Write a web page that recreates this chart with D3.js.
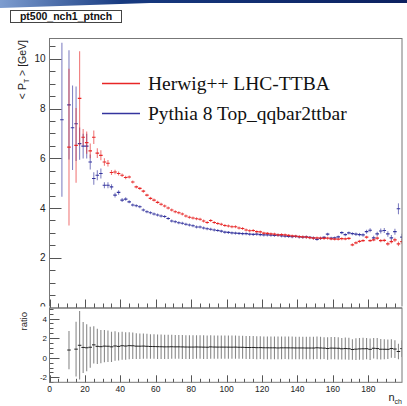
<!DOCTYPE html>
<html>
<head>
<meta charset="utf-8">
<script src="https://cdn.jsdelivr.net/npm/d3@7"></script>
<style>
  body { margin: 0; background: #fff; }
  svg { display: block; font-family: "Liberation Sans", Arial, sans-serif; }
</style>
</head>
<body>
<div class="chart"></div>
<script>
// bin centres of n_ch (bins of width 2)
var binCenters = d3.range(1, 200, 2);

// Herwig++ LHC-TTBA  <pT> per bin (null = empty bin)
var herwigVals = [null, null, null, null, null, 6.45, null, 6.52, 8.41, 6.85,
  6.63, 6.30, 6.85, 6.21, 6.12, 5.85, 5.80, 5.43, 5.45, 5.39,
  5.32, 5.23, 5.25, 5.05, 4.85, 4.79, 4.68, 4.52, 4.39, 4.32,
  4.23, 4.15, 4.08, 4.00, 3.92, 3.85, 3.81, 3.76, 3.68, 3.63,
  3.60, 3.57, 3.55, 3.48, 3.42, 3.50, 3.42, 3.38, 3.35, 3.30,
  3.28, 3.25, 3.25, 3.20, 3.18, 3.12, 3.09, 3.10, 3.05, 3.04,
  2.99, 2.98, 2.96, 2.95, 2.92, 2.93, 2.92, 2.90, 2.88, 2.87,
  2.85, 2.84, 2.83, 2.81, 2.79, 2.80, 2.79, 2.78, 2.79, 2.76,
  2.75, 2.75, 2.77, 2.76, 2.78, 2.52, 2.60, 2.66, 2.69, 2.83,
  2.69, 2.72, 2.79, 2.69, 2.70, 2.56, 2.65, 2.72, 2.56, 2.65];
var herwigErr = [null, null, null, null, null, 3.15, null, 1.50, 1.90, 0.33,
  0.45, 0.30, 0.27, 0.20, 0.20, 0.15, 0.13, 0.10, 0.09, 0.08,
  0.07, 0.07, 0.06, 0.06, 0.05, 0.05, 0.05, 0.04, 0.04, 0.04,
  0.04, 0.04, 0.03, 0.03, 0.03, 0.03, 0.03, 0.03, 0.03, 0.03,
  0.03, 0.03, 0.03, 0.03, 0.03, 0.03, 0.03, 0.03, 0.03, 0.03,
  0.03, 0.03, 0.03, 0.03, 0.03, 0.03, 0.03, 0.03, 0.03, 0.03,
  0.03, 0.03, 0.03, 0.03, 0.03, 0.03, 0.03, 0.03, 0.03, 0.03,
  0.03, 0.03, 0.03, 0.04, 0.04, 0.04, 0.04, 0.04, 0.04, 0.04,
  0.04, 0.04, 0.05, 0.05, 0.05, 0.06, 0.05, 0.06, 0.06, 0.06,
  0.06, 0.06, 0.07, 0.07, 0.07, 0.08, 0.08, 0.09, 0.09, 0.10];

// Pythia 8 Top_qqbar2ttbar  <pT> per bin
var pythiaVals = [null, null, null, 7.55, null, 8.15, 7.23, 7.39, 6.59, 6.49,
  6.49, 5.85, 5.19, 5.32, 5.39, 4.92, 4.92, 4.85, 4.52, 4.63,
  4.32, 4.36, 4.25, 4.12, 4.09, 4.05, 3.92, 3.85, 3.81, 3.76,
  3.72, 3.68, 3.66, 3.58, 3.48, 3.45, 3.41, 3.39, 3.35, 3.32,
  3.29, 3.24, 3.24, 3.20, 3.17, 3.15, 3.12, 3.10, 3.07, 3.03,
  3.02, 3.00, 2.99, 2.98, 2.97, 2.97, 2.95, 2.94, 2.95, 2.93,
  2.92, 2.92, 2.91, 2.90, 2.91, 2.88, 2.87, 2.86, 2.85, 2.86,
  2.84, 2.83, 2.84, 2.82, 2.80, 2.74, 2.78, 2.82, 2.95, 2.79,
  2.80, 2.84, 3.01, 2.93, 3.00, 2.97, 2.95, 2.93, 2.92, 3.05,
  3.11, 2.80, 2.96, 3.08, 3.10, 2.96, 2.80, 3.05, 3.97, 2.83];
var pythiaErr = [null, null, null, 3.10, null, 2.20, 1.70, 1.50, 0.65, 0.50,
  0.50, 0.30, 0.25, 0.20, 0.20, 0.12, 0.12, 0.11, 0.10, 0.09,
  0.08, 0.07, 0.06, 0.06, 0.05, 0.05, 0.05, 0.04, 0.04, 0.04,
  0.04, 0.03, 0.03, 0.03, 0.03, 0.03, 0.03, 0.03, 0.03, 0.03,
  0.03, 0.03, 0.03, 0.03, 0.03, 0.03, 0.03, 0.03, 0.03, 0.03,
  0.03, 0.03, 0.03, 0.03, 0.03, 0.03, 0.03, 0.03, 0.03, 0.03,
  0.03, 0.03, 0.03, 0.03, 0.03, 0.03, 0.03, 0.03, 0.03, 0.03,
  0.04, 0.04, 0.04, 0.04, 0.04, 0.04, 0.04, 0.05, 0.05, 0.05,
  0.05, 0.05, 0.06, 0.06, 0.06, 0.06, 0.07, 0.07, 0.07, 0.08,
  0.08, 0.09, 0.09, 0.10, 0.10, 0.11, 0.12, 0.12, 0.22, 0.14];

// error on the ratio Herwig/Pythia as drawn in the lower pad
var ratioErr = [null, null, null, null, null, 1.95, null, 2.80, 3.50, 2.60,
  2.40, 2.10, 1.90, 1.80, 1.70, 1.65, 1.60, 1.55, 1.50, 1.45,
  1.42, 1.40, 1.38, 1.35, 1.32, 1.30, 1.28, 1.27, 1.26, 1.25,
  1.25, 1.24, 1.24, 1.23, 1.23, 1.22, 1.22, 1.22, 1.21, 1.21,
  1.21, 1.20, 1.20, 1.20, 1.20, 1.20, 1.19, 1.19, 1.19, 1.19,
  1.18, 1.18, 1.18, 1.18, 1.18, 1.17, 1.17, 1.17, 1.17, 1.17,
  1.16, 1.16, 1.16, 1.16, 1.16, 1.16, 1.15, 1.15, 1.15, 1.15,
  1.15, 1.15, 1.14, 1.14, 1.14, 1.14, 1.14, 1.12, 1.14, 1.13,
  1.13, 1.13, 1.10, 1.12, 1.12, 1.05, 1.10, 1.10, 1.12, 1.08,
  1.10, 1.05, 1.08, 1.05, 1.02, 1.00, 0.95, 0.90, 0.80, 0.85];

var legendLabels = ["Herwig++ LHC-TTBA", "Pythia 8 Top_qqbar2ttbar"];
var colors = ["#e82626", "#34349e"];

var svgWidth = 407, svgHeight = 406;
var frame = { left: 49.5, right: 402, top: 38, bottom: 307.5 };
var rframe = { top: 308, bottom: 382.3 };

var svg = d3.select(".chart").append("svg")
  .attr("width", svgWidth)
  .attr("height", svgHeight);

// header strip at the very top
var defs = svg.append("defs");
var grad = defs.append("linearGradient").attr("id", "band");
grad.append("stop").attr("offset", "0%").attr("stop-color", "#7d9dd0");
grad.append("stop").attr("offset", "30%").attr("stop-color", "#173a80");
grad.append("stop").attr("offset", "100%").attr("stop-color", "#0c2160");
svg.append("path")
  .attr("d", "M0,0 H407 V3 H150 L0,8 Z")
  .attr("fill", "url(#band)");

// title box
svg.append("rect")
  .attr("x", 10.5).attr("y", 10.5).attr("width", 111).attr("height", 12)
  .attr("fill", "#fff").attr("stroke", "#444").attr("stroke-width", 1);
svg.append("text")
  .attr("x", 66).attr("y", 20.3)
  .attr("text-anchor", "middle")
  .attr("font-size", "10.5px").attr("font-weight", "bold").attr("fill", "#111")
  .text("pt500_nch1_ptnch");

// scales
var x = d3.scaleLinear().domain([0, 199]).range([frame.left, frame.right]);
var y = d3.scaleLinear().domain([0, 10.84]).range([frame.bottom, frame.top]);
var yr = d3.scaleLinear().domain([-2.5, 5.08]).range([rframe.bottom, rframe.top]);

defs.append("clipPath").attr("id", "clipTop").append("rect")
  .attr("x", frame.left).attr("y", frame.top)
  .attr("width", frame.right - frame.left).attr("height", frame.bottom - frame.top);
defs.append("clipPath").attr("id", "clipRatio").append("rect")
  .attr("x", frame.left).attr("y", rframe.top)
  .attr("width", frame.right - frame.left).attr("height", rframe.bottom - rframe.top);

// ---------- upper pad ----------
var topPad = svg.append("g");

// y axis ticks (inside the frame)
var yMajor = d3.range(0, 11, 2);
var yMinor = d3.range(0, 10.84, 0.5);
topPad.selectAll(".ymin").data(yMinor).enter().append("line")
  .attr("x1", frame.left).attr("x2", frame.left + 6)
  .attr("y1", d => Math.round(y(d)) + 0.5).attr("y2", d => Math.round(y(d)) + 0.5)
  .attr("stroke", "#555");
topPad.selectAll(".ymaj").data(yMajor).enter().append("line")
  .attr("x1", frame.left).attr("x2", frame.left + 12)
  .attr("y1", d => Math.round(y(d)) + 0.5).attr("y2", d => Math.round(y(d)) + 0.5)
  .attr("stroke", "#555");
topPad.selectAll(".ylab").data(yMajor.filter(d => d > 0)).enter().append("text")
  .attr("x", 45.5).attr("y", d => y(d) + 3.6)
  .attr("text-anchor", "end").attr("font-size", "10px").attr("fill", "#222")
  .text(d => d);

// x axis ticks of upper pad (no labels)
var xMajor = d3.range(0, 200, 20);
var xMinor = d3.range(0, 200, 5);
topPad.selectAll(".xmin").data(xMinor).enter().append("line")
  .attr("x1", d => Math.round(x(d)) + 0.5).attr("x2", d => Math.round(x(d)) + 0.5)
  .attr("y1", frame.bottom).attr("y2", frame.bottom - 4)
  .attr("stroke", "#555");
topPad.selectAll(".xmaj").data(xMajor).enter().append("line")
  .attr("x1", d => Math.round(x(d)) + 0.5).attr("x2", d => Math.round(x(d)) + 0.5)
  .attr("y1", frame.bottom).attr("y2", frame.bottom - 8)
  .attr("stroke", "#555");

// data points: bin-width horizontal line + vertical error bar
function drawSeries(g, vals, errs, color) {
  var pts = binCenters.map((c, i) => ({ c: c, v: vals[i], e: errs[i] }))
    .filter(d => d.v !== null);
  g.selectAll(null).data(pts).enter().append("line")
    .attr("x1", d => x(d.c)).attr("x2", d => x(d.c))
    .attr("y1", d => y(d.v + Math.max(d.e, 0.06)))
    .attr("y2", d => y(d.v - Math.max(d.e, 0.06)))
    .attr("stroke", color).attr("stroke-width", 1.1).attr("opacity", 0.6);
  g.selectAll(null).data(pts).enter().append("line")
    .attr("x1", d => x(d.c - 1)).attr("x2", d => x(d.c + 1))
    .attr("y1", d => y(d.v)).attr("y2", d => y(d.v))
    .attr("stroke", color).attr("stroke-width", 1.1);
}
var dataG = topPad.append("g").attr("clip-path", "url(#clipTop)");
drawSeries(dataG, pythiaVals, pythiaErr, colors[1]);
drawSeries(dataG, herwigVals, herwigErr, colors[0]);

// frame
topPad.append("rect")
  .attr("x", frame.left).attr("y", frame.top + 0.5)
  .attr("width", frame.right - frame.left).attr("height", frame.bottom - frame.top)
  .attr("fill", "none").attr("stroke", "#777");

// y title
topPad.append("text")
  .attr("transform", "translate(26, 40) rotate(-90)")
  .attr("text-anchor", "end").attr("font-size", "10.5px").attr("fill", "#222")
  .html('&lt; P<tspan font-size="7px" dy="2.5">T</tspan><tspan dy="-2.5"> &gt; [GeV]</tspan>');

// legend
var legend = topPad.append("g");
legendLabels.forEach(function(lbl, i) {
  var ly = 83.5 + i * 30;
  legend.append("line")
    .attr("x1", 102).attr("x2", 140).attr("y1", ly).attr("y2", ly)
    .style("stroke", colors[i]).style("stroke-width", "1.3px");
  legend.append("text")
    .attr("x", 148).attr("y", ly + 6.5)
    .attr("font-family", "'Liberation Serif', 'Times New Roman', serif")
    .attr("font-size", "19.5px").attr("fill", "#111")
    .text(lbl);
});

// "0" label of the upper pad, partly hidden under the ratio pad
topPad.append("text")
  .attr("x", 45.5).attr("y", y(0) + 3.6)
  .attr("text-anchor", "end").attr("font-size", "10px").attr("fill", "#222")
  .text("0");

// ---------- ratio pad ----------
var rp = svg.append("g");
rp.append("rect")
  .attr("x", 0).attr("y", 306.5).attr("width", svgWidth).attr("height", svgHeight - 306.5)
  .attr("fill", "#fff");
// redraw the shared border line and upward ticks
rp.append("line")
  .attr("x1", frame.left).attr("x2", frame.right)
  .attr("y1", rframe.top).attr("y2", rframe.top)
  .attr("stroke", "#777");
rp.selectAll(".tmin").data(xMinor).enter().append("line")
  .attr("x1", d => Math.round(x(d)) + 0.5).attr("x2", d => Math.round(x(d)) + 0.5)
  .attr("y1", rframe.top).attr("y2", rframe.top - 4)
  .attr("stroke", "#555");
rp.selectAll(".tmaj").data(xMajor).enter().append("line")
  .attr("x1", d => Math.round(x(d)) + 0.5).attr("x2", d => Math.round(x(d)) + 0.5)
  .attr("y1", rframe.top).attr("y2", rframe.top - 8)
  .attr("stroke", "#555");

// ratio y axis
var rMajor = [-2, 0, 2, 4];
var rMinor = d3.range(-2.5, 5.1, 0.5);
rp.selectAll(".rmin").data(rMinor).enter().append("line")
  .attr("x1", frame.left).attr("x2", frame.left + 4)
  .attr("y1", d => Math.round(yr(d)) + 0.5).attr("y2", d => Math.round(yr(d)) + 0.5)
  .attr("stroke", "#555");
rp.selectAll(".rmaj").data(rMajor).enter().append("line")
  .attr("x1", frame.left).attr("x2", frame.left + 10)
  .attr("y1", d => Math.round(yr(d)) + 0.5).attr("y2", d => Math.round(yr(d)) + 0.5)
  .attr("stroke", "#555");
rp.selectAll(".rlab").data(rMajor).enter().append("text")
  .attr("x", 47).attr("y", d => yr(d) + 3)
  .attr("text-anchor", "end").attr("font-size", "8px").attr("fill", "#222")
  .text(d => d);

// ratio x axis
rp.selectAll(".bmin").data(xMinor).enter().append("line")
  .attr("x1", d => Math.round(x(d)) + 0.5).attr("x2", d => Math.round(x(d)) + 0.5)
  .attr("y1", rframe.bottom).attr("y2", rframe.bottom - 3.5)
  .attr("stroke", "#555");
rp.selectAll(".bmaj").data(xMajor).enter().append("line")
  .attr("x1", d => Math.round(x(d)) + 0.5).attr("x2", d => Math.round(x(d)) + 0.5)
  .attr("y1", rframe.bottom).attr("y2", rframe.bottom - 7)
  .attr("stroke", "#555");
rp.selectAll(".blab").data(xMajor).enter().append("text")
  .attr("x", d => x(d)).attr("y", 391.5)
  .attr("text-anchor", "middle").attr("font-size", "8.5px").attr("fill", "#222")
  .text(d => d);

// ratio points
var ratioPts = binCenters.map((c, i) => ({
  c: c,
  v: (herwigVals[i] !== null && pythiaVals[i] !== null) ? herwigVals[i] / pythiaVals[i] : null,
  e: ratioErr[i]
})).filter(d => d.v !== null);
var rg = rp.append("g").attr("clip-path", "url(#clipRatio)");
rg.selectAll(null).data(ratioPts).enter().append("line")
  .attr("x1", d => x(d.c)).attr("x2", d => x(d.c))
  .attr("y1", d => yr(d.v + d.e)).attr("y2", d => yr(d.v - d.e))
  .attr("stroke", "#8a8a8a").attr("stroke-width", 1.1);
rg.selectAll(null).data(ratioPts).enter().append("line")
  .attr("x1", d => x(d.c - 1)).attr("x2", d => x(d.c + 1))
  .attr("y1", d => yr(d.v)).attr("y2", d => yr(d.v))
  .attr("stroke", "#222").attr("stroke-width", 1);

rp.append("rect")
  .attr("x", frame.left).attr("y", rframe.top)
  .attr("width", frame.right - frame.left).attr("height", rframe.bottom - rframe.top)
  .attr("fill", "none").attr("stroke", "#777");

// axis titles of the ratio pad
rp.append("text")
  .attr("transform", "translate(27, 312) rotate(-90)")
  .attr("text-anchor", "end").attr("font-size", "9.5px").attr("fill", "#222")
  .text("ratio");
rp.append("text")
  .attr("x", 402).attr("y", 401)
  .attr("text-anchor", "end").attr("font-size", "11px").attr("fill", "#222")
  .html('n<tspan font-size="7px" dy="2.5">ch</tspan>');
</script>
</body>
</html>
